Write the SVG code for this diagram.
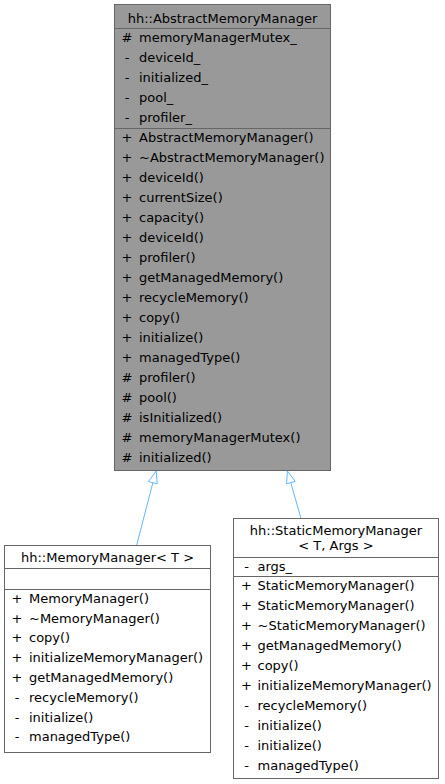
<svg xmlns="http://www.w3.org/2000/svg" width="445" height="784" viewBox="0 0 445 784">
  <style>
    text { font-family: "DejaVu Sans", "Liberation Sans", sans-serif; font-size: 13px; fill: #000000; }
    .title { text-anchor: middle; }
    .sym { text-anchor: middle; }
    .box { stroke: #666666; stroke-width: 1; }
    .base { fill: #999999; }
    .plain { fill: #ffffff; }
    .sep { stroke: #666666; stroke-width: 1; fill: none; }
    .edge { stroke: #63b8ff; stroke-width: 1; fill: none; }
    .head { stroke: #63b8ff; stroke-width: 1; fill: #ffffff; }
  </style>

  <!-- Inheritance connectors -->
  <g id="edges">
    <g id="edge-memorymanager">
      <line class="edge" x1="136.7" y1="545" x2="152.8" y2="483"/>
      <polygon class="head" points="156.2,471 148.4,481.6 157.2,483.8"/>
    </g>
    <g id="edge-staticmemorymanager">
      <line class="edge" x1="301" y1="518.5" x2="290.9" y2="483"/>
      <polygon class="head" points="287.4,471 286.6,483.8 295.2,481.4"/>
    </g>
  </g>

  <!-- Base class -->
  <g id="node-abstractmemorymanager">
    <rect class="box base" x="114.5" y="4.5" width="216" height="466"/>
    <line class="sep" x1="114.5" y1="28.5" x2="330.5" y2="28.5"/>
    <line class="sep" x1="114.5" y1="128.5" x2="330.5" y2="128.5"/>
    <text class="title" x="222.5" y="22.5">hh::AbstractMemoryManager</text>
    <g>
      <text class="sym" x="127" y="42">#</text><text x="139" y="42">memoryManagerMutex_</text>
      <text class="sym" x="127" y="62">-</text><text x="139" y="62">deviceId_</text>
      <text class="sym" x="127" y="82">-</text><text x="139" y="82">initialized_</text>
      <text class="sym" x="127" y="102">-</text><text x="139" y="102">pool_</text>
      <text class="sym" x="127" y="122">-</text><text x="139" y="122">profiler_</text>
    </g>
    <g>
      <text class="sym" x="127" y="141.7">+</text><text x="139" y="141.7">AbstractMemoryManager()</text>
      <text class="sym" x="127" y="161.7">+</text><text x="139" y="161.7">~AbstractMemoryManager()</text>
      <text class="sym" x="127" y="181.7">+</text><text x="139" y="181.7">deviceId()</text>
      <text class="sym" x="127" y="201.7">+</text><text x="139" y="201.7">currentSize()</text>
      <text class="sym" x="127" y="221.7">+</text><text x="139" y="221.7">capacity()</text>
      <text class="sym" x="127" y="241.7">+</text><text x="139" y="241.7">deviceId()</text>
      <text class="sym" x="127" y="261.7">+</text><text x="139" y="261.7">profiler()</text>
      <text class="sym" x="127" y="281.7">+</text><text x="139" y="281.7">getManagedMemory()</text>
      <text class="sym" x="127" y="301.7">+</text><text x="139" y="301.7">recycleMemory()</text>
      <text class="sym" x="127" y="321.7">+</text><text x="139" y="321.7">copy()</text>
      <text class="sym" x="127" y="341.7">+</text><text x="139" y="341.7">initialize()</text>
      <text class="sym" x="127" y="361.7">+</text><text x="139" y="361.7">managedType()</text>
      <text class="sym" x="127" y="381.7">#</text><text x="139" y="381.7">profiler()</text>
      <text class="sym" x="127" y="401.7">#</text><text x="139" y="401.7">pool()</text>
      <text class="sym" x="127" y="421.7">#</text><text x="139" y="421.7">isInitialized()</text>
      <text class="sym" x="127" y="441.7">#</text><text x="139" y="441.7">memoryManagerMutex()</text>
      <text class="sym" x="127" y="461.7">#</text><text x="139" y="461.7">initialized()</text>
    </g>
  </g>

  <!-- Derived class: MemoryManager -->
  <g id="node-memorymanager">
    <rect class="box plain" x="4.5" y="545.5" width="206" height="207"/>
    <line class="sep" x1="4.5" y1="568.5" x2="210.5" y2="568.5"/>
    <line class="sep" x1="4.5" y1="589.5" x2="210.5" y2="589.5"/>
    <text class="title" x="107.5" y="561.7">hh::MemoryManager&lt; T &gt;</text>
    <text class="sym" x="17" y="602.7">+</text><text x="29" y="602.7">MemoryManager()</text>
    <text class="sym" x="17" y="622.5">+</text><text x="29" y="622.5">~MemoryManager()</text>
    <text class="sym" x="17" y="642.3">+</text><text x="29" y="642.3">copy()</text>
    <text class="sym" x="17" y="662.1">+</text><text x="29" y="662.1">initializeMemoryManager()</text>
    <text class="sym" x="17" y="681.9">+</text><text x="29" y="681.9">getManagedMemory()</text>
    <text class="sym" x="17" y="701.7">-</text><text x="29" y="701.7">recycleMemory()</text>
    <text class="sym" x="17" y="721.5">-</text><text x="29" y="721.5">initialize()</text>
    <text class="sym" x="17" y="741.3">-</text><text x="29" y="741.3">managedType()</text>
  </g>

  <!-- Derived class: StaticMemoryManager -->
  <g id="node-staticmemorymanager">
    <rect class="box plain" x="233.5" y="518.5" width="205" height="260"/>
    <line class="sep" x1="233.5" y1="557.5" x2="438.5" y2="557.5"/>
    <line class="sep" x1="233.5" y1="576.5" x2="438.5" y2="576.5"/>
    <text class="title" x="336" y="535">hh::StaticMemoryManager</text>
    <text class="title" x="336" y="549.5">&lt; T, Args &gt;</text>
    <text class="sym" x="246.5" y="571">-</text><text x="257.5" y="571">args_</text>
    <text class="sym" x="246.5" y="590.4">+</text><text x="257.5" y="590.4">StaticMemoryManager()</text>
    <text class="sym" x="246.5" y="610.4">+</text><text x="257.5" y="610.4">StaticMemoryManager()</text>
    <text class="sym" x="246.5" y="630.4">+</text><text x="257.5" y="630.4">~StaticMemoryManager()</text>
    <text class="sym" x="246.5" y="650.4">+</text><text x="257.5" y="650.4">getManagedMemory()</text>
    <text class="sym" x="246.5" y="670.4">+</text><text x="257.5" y="670.4">copy()</text>
    <text class="sym" x="246.5" y="690.4">+</text><text x="257.5" y="690.4">initializeMemoryManager()</text>
    <text class="sym" x="246.5" y="710.4">-</text><text x="257.5" y="710.4">recycleMemory()</text>
    <text class="sym" x="246.5" y="730.4">-</text><text x="257.5" y="730.4">initialize()</text>
    <text class="sym" x="246.5" y="750.4">-</text><text x="257.5" y="750.4">initialize()</text>
    <text class="sym" x="246.5" y="770.4">-</text><text x="257.5" y="770.4">managedType()</text>
  </g>
</svg>
